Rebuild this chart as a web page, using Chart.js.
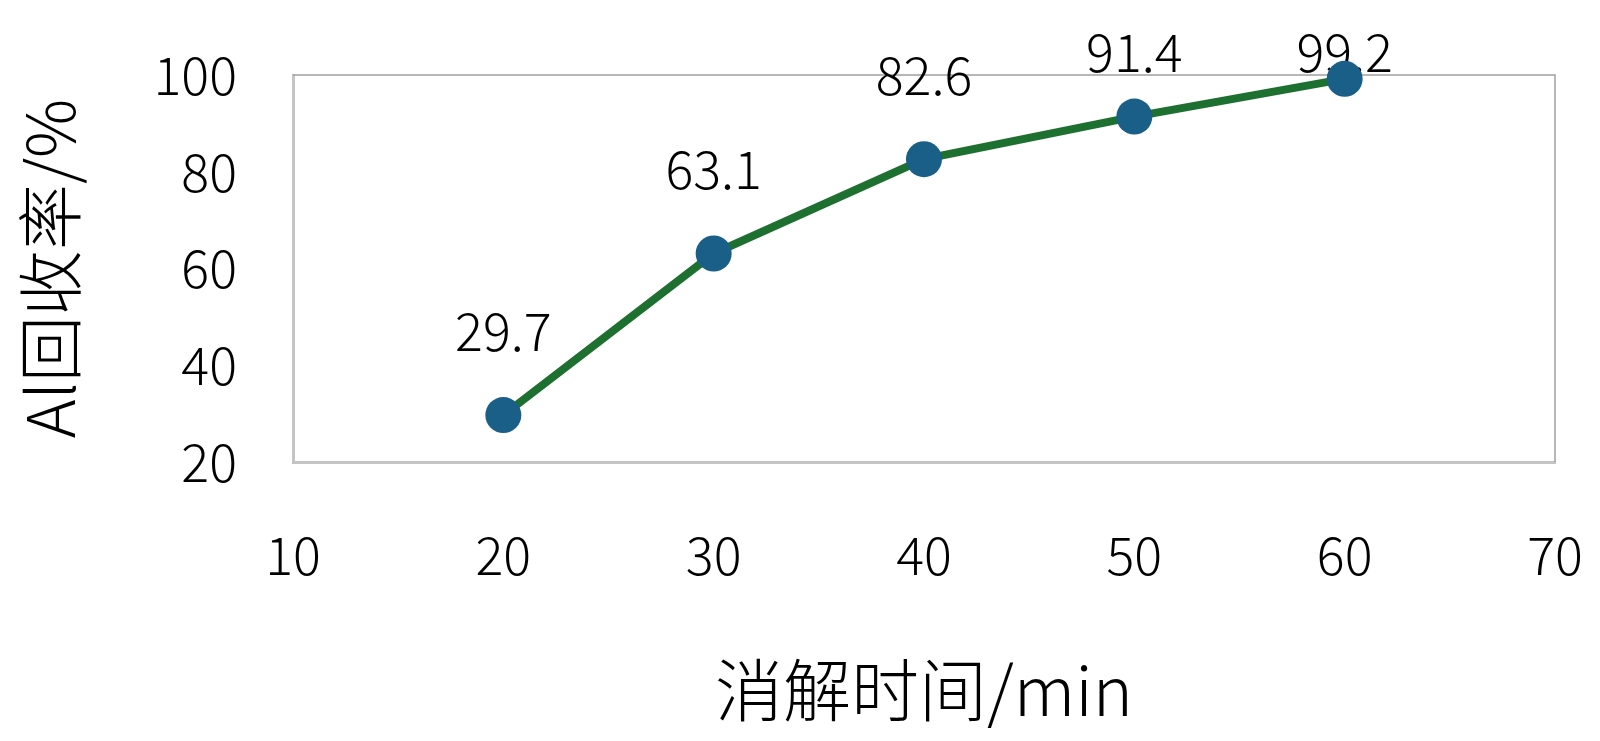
<!DOCTYPE html>
<html>
<head>
<meta charset="utf-8">
<style>
    html, body { margin: 0; padding: 0; background: #fff; }
    #wrap { width: 1600px; height: 741px; }
</style>
<script src="https://cdn.jsdelivr.net/npm/chart.js@4/dist/chart.umd.min.js"></script>
</head>
<body>
<div id="wrap"><canvas id="recovery"></canvas></div>
<script>
// Data
const times = [20, 30, 40, 50, 60];
const recovery = [29.7, 63.1, 82.6, 91.4, 99.2];
const xTicks = [10, 20, 30, 40, 50, 60, 70];
const yTicks = [20, 40, 60, 80, 100];

const FONT = '"Noto Sans CJK SC", "Noto Sans", sans-serif';

// Value labels above each point (kept from running off the top, like Excel does).
// Drawn under the markers, the last marker sits over its label.
const pointLabels = {
    id: 'pointLabels',
    beforeDatasetsDraw(chart) {
        const { ctx, chartArea } = chart;
        const meta = chart.getDatasetMeta(0);
        ctx.save();
        ctx.font = `300 52px ${FONT}`;
        ctx.fillStyle = '#000';
        ctx.textAlign = 'center';
        ctx.textBaseline = 'middle';
        meta.data.forEach((pt, i) => {
            const y = Math.max(pt.y - 84, chartArea.top - 23);
            ctx.fillText(recovery[i].toFixed(1), pt.x, y);
        });
        ctx.restore();
    }
};

// Thin frame on top / right of the plot area
const frame = {
    id: 'frame',
    beforeDatasetsDraw(chart) {
        const { ctx, chartArea: a } = chart;
        ctx.save();
        ctx.strokeStyle = '#a0a0a0';
        ctx.lineWidth = 1.5;
        ctx.beginPath();
        ctx.moveTo(a.left, a.top);
        ctx.lineTo(a.right, a.top);
        ctx.lineTo(a.right, a.bottom);
        ctx.stroke();
        ctx.restore();
    }
};

new Chart(document.getElementById('recovery'), {
    type: 'scatter',
    data: {
        datasets: [{
            data: times.map((t, i) => ({ x: t, y: recovery[i] })),
            showLine: true,
            borderColor: '#1e7030',
            borderWidth: 8,
            tension: 0,
            pointRadius: 18,
            pointHoverRadius: 18,
            pointBackgroundColor: '#1a5f87',
            pointBorderColor: '#1a5f87',
            pointBorderWidth: 0,
            clip: false
        }]
    },
    options: {
        responsive: true,
        maintainAspectRatio: false,
        animation: false,
        events: [],
        layout: { padding: { top: 75, right: 45, left: 0, bottom: 0 } },
        plugins: {
            legend: { display: false },
            tooltip: { enabled: false }
        },
        scales: {
            x: {
                type: 'linear',
                min: 10,
                max: 70,
                afterBuildTicks: s => { s.ticks = xTicks.map(v => ({ value: v })); },
                afterFit: s => {
                    s.height = 279;
                    s.paddingLeft = 0;
                    s.paddingRight = 0;
                },
                grid: { display: false, drawTicks: false },
                border: { display: true, color: '#c4c4c4', width: 3 },
                ticks: {
                    padding: 62,
                    color: '#000',
                    font: { family: FONT, size: 52, weight: 300 },
                    maxRotation: 0
                },
                title: {
                    display: true,
                    text: '消解时间/min',
                    color: '#000',
                    font: { family: FONT, size: 68, weight: 300 },
                    padding: { top: 0, bottom: 10 }
                }
            },
            y: {
                type: 'linear',
                min: 20,
                max: 100,
                afterBuildTicks: s => { s.ticks = yTicks.map(v => ({ value: v })); },
                afterFit: s => {
                    s.width = 293;
                    s.paddingTop = 0;
                    s.paddingBottom = 0;
                },
                grid: { display: false, drawTicks: false },
                border: { display: true, color: '#c4c4c4', width: 3 },
                ticks: {
                    padding: 56,
                    color: '#000',
                    font: { family: FONT, size: 52, weight: 300 }
                },
                title: {
                    display: true,
                    text: 'Al回收率/%',
                    color: '#000',
                    font: { family: FONT, size: 66, weight: 300 },
                    padding: { top: 10, bottom: 0 }
                }
            }
        }
    },
    plugins: [frame, pointLabels]
});
</script>
</body>
</html>
